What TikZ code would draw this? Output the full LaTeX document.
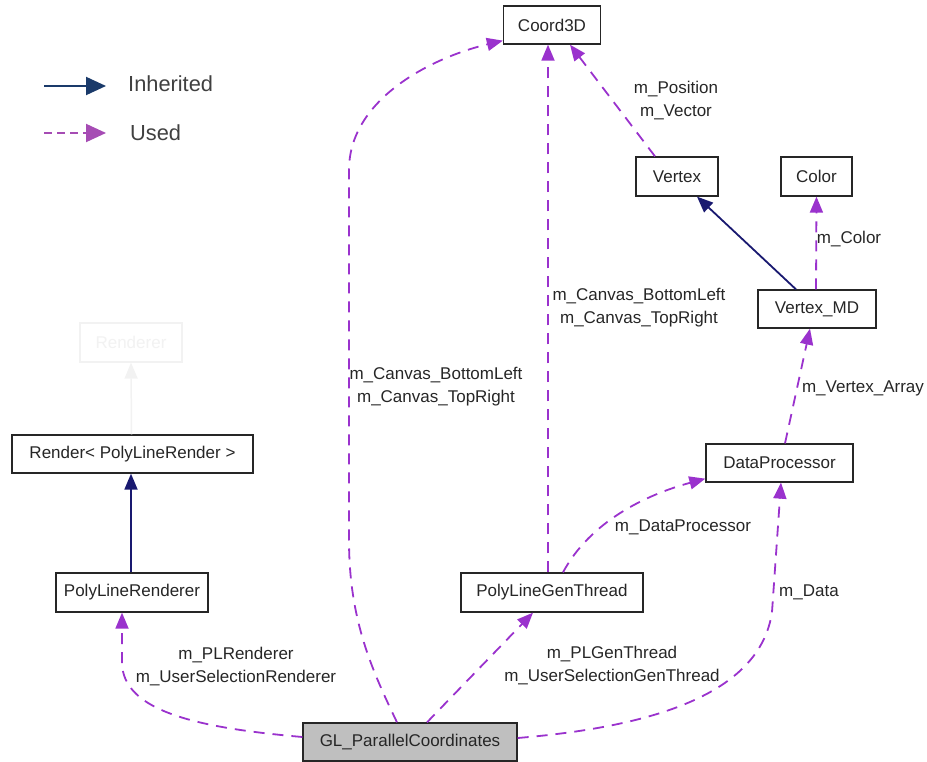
\documentclass[tikz,border=0pt]{standalone}
\usepackage{fontspec}
\setmainfont{Liberation Sans}
\usetikzlibrary{arrows.meta,calc}
\definecolor{usedc}{HTML}{9A32CD}
\definecolor{inhc}{HTML}{191970}
\definecolor{legused}{HTML}{A64CB4}
\definecolor{leginh}{HTML}{1A3A6A}
\definecolor{glfill}{HTML}{BFBFBF}
\definecolor{faint}{HTML}{F2F2F2}
\tikzset{
  cls/.style={draw=black!85, line width=1.3pt, fill=white, inner sep=0pt, font=\fontsize{17}{19}\selectfont, text=black!85},
  usedarr/.style={draw=usedc, line width=1.8pt, dash pattern=on 11pt off 8pt, -{Triangle[length=16pt,width=13pt,fill=usedc]}},
  inharr/.style={draw=inhc, line width=1.8pt, -{Triangle[length=16pt,width=13pt,fill=inhc]}},
  lbl/.style={font=\fontsize{17}{23}\selectfont, text=black!85, align=center, inner sep=0pt},
  legtxt/.style={font=\fontsize{21.8}{24}\selectfont, text=black!75, anchor=west, inner sep=0pt}
}
\begin{document}
\begin{tikzpicture}[x=1pt,y=-1pt]
\useasboundingbox (0,0) rectangle (927,762);
% legend
\coordinate (li1) at (44,86);
\coordinate (li2) at (106,86);
\coordinate (lu1) at (44,133);
\coordinate (lu2) at (106,133);
\draw[draw=leginh, line width=2pt, -{Triangle[length=20pt,width=18pt,fill=leginh]}] (li1) -- (li2);
\draw[draw=legused, line width=2pt, dash pattern=on 8pt off 5pt, -{Triangle[length=20pt,width=18pt,fill=legused]}] (lu1) -- (lu2);
\node[legtxt] (linh) at (128,84) {Inherited};
\node[legtxt] (lused) at (130,133) {Used};
% nodes
\node[cls, minimum width=97pt, minimum height=38pt] (coord) at (552,25) {Coord3D};
\node[cls, minimum width=82pt, minimum height=39pt] (vertex) at (677,176.5) {Vertex};
\node[cls, minimum width=71pt, minimum height=39pt] (color) at (816.5,176.5) {Color};
\node[cls, minimum width=118pt, minimum height=38pt] (vmd) at (817,309) {Vertex\_MD};
\node[cls, minimum width=147pt, minimum height=38pt] (dp) at (779.5,463) {DataProcessor};
\node[cls, minimum width=182pt, minimum height=39pt] (plgt) at (552,592.5) {PolyLineGenThread};
\node[cls, fill=glfill, minimum width=214pt, minimum height=38pt] (gl) at (410,742) {GL\_ParallelCoordinates};
\node[cls, minimum width=241pt, minimum height=38pt] (render) at (132.5,454) {Render< PolyLineRender >};
\node[cls, minimum width=152pt, minimum height=39pt] (plr) at (132,592.5) {PolyLineRenderer};
\node[cls, draw=faint, text=faint, minimum width=102pt, minimum height=39pt] (renderer) at (131,342.5) {Renderer};
% edges
\draw[draw=faint, line width=1.5pt, -{Triangle[length=16pt,width=13pt,fill=faint]}] ([xshift=-1pt]render.north) -- ([xshift=0pt]renderer.south);
\draw[inharr] ([xshift=-1pt]plr.north) -- ([xshift=-1.5pt]render.south);
\draw[inharr] ([xshift=-21pt]vmd.north) -- ([xshift=20pt]vertex.south);
\draw[usedarr] ([xshift=-13pt]gl.north) .. controls (372,670) and (349,620) .. (349,540) -- (349,170) .. controls (349,100) and (430,58) .. ([yshift=4pt]coord.south west);
\draw[usedarr] ([xshift=-4pt]plgt.north) -- ([xshift=-4pt]coord.south);
\draw[usedarr] ([xshift=-22pt]vertex.north) -- ([xshift=18pt]coord.south);
\draw[usedarr] ([xshift=-1pt]vmd.north) -- (color.south);
\draw[usedarr] ([xshift=5.5pt]dp.north) -- ([xshift=-7pt]vmd.south);
\draw[usedarr] ([xshift=11pt]plgt.north) .. controls (590,522) and (645,495) .. ([yshift=4pt]dp.south west);
\draw[usedarr] ([yshift=4pt]gl.east) .. controls (650,727) and (760,695) .. (772,612) -- ([xshift=1.5pt]dp.south);
\draw[usedarr] ([xshift=17pt]gl.north) -- ([xshift=-19pt]plgt.south);
\draw[usedarr] ([yshift=5pt]gl.west) .. controls (200,728) and (122,712) .. (122,662) -- ([xshift=-10pt]plr.south);
% labels
\node[lbl] (l1) at (436,386.5) {m\_Canvas\_BottomLeft\\m\_Canvas\_TopRight};
\node[lbl] (l2) at (639,308) {m\_Canvas\_BottomLeft\\m\_Canvas\_TopRight};
\node[lbl] (l3) at (676,100.5) {m\_Position\\m\_Vector};
\node[lbl] (l4) at (849,239) {m\_Color};
\node[lbl] (l5) at (863,388) {m\_Vertex\_Array};
\node[lbl] (l6) at (683,527) {m\_DataProcessor};
\node[lbl] (l7) at (809,592) {m\_Data};
\node[lbl] (l8) at (612,666) {m\_PLGenThread\\m\_UserSelectionGenThread};
\node[lbl] (l9) at (236,667) {m\_PLRenderer\\m\_UserSelectionRenderer};
\end{tikzpicture}
\end{document}
